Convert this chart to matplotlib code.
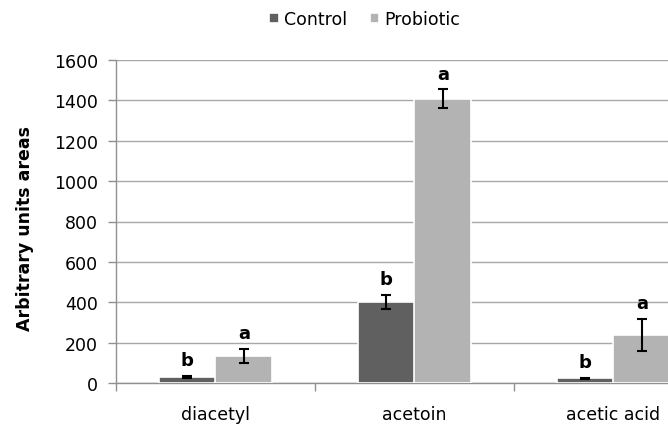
import matplotlib
matplotlib.use("Agg")
import matplotlib.pyplot as plt
import numpy as np

categories = ["diacetyl", "acetoin", "acetic acid"]
series_names = ["Control", "Probiotic"]
control = [30, 402, 23]
control_err = [6, 33, 4]
probiotic = [133, 1409, 238]
probiotic_err = [36, 45, 78]
control_letters = ["b", "b", "b"]
probiotic_letters = ["a", "a", "a"]
yticks = [0, 200, 400, 600, 800, 1000, 1200, 1400, 1600]

plt.rcParams['font.family'] = ['DejaVu Sans']

fig = plt.figure(figsize=(6.68, 4.27), dpi=100)
ax = fig.add_axes([116/668, 1-384/427, 597/668, 323/427])

x = np.arange(len(categories)) + 0.5
w = 0.285
off = 0.142
c_col = "#606060"
p_col = "#b3b3b3"

b1 = ax.bar(x - off, control, w, color=c_col, edgecolor="white", linewidth=1.2, zorder=3, label=series_names[0])
b2 = ax.bar(x + off, probiotic, w, color=p_col, edgecolor="white", linewidth=1.2, zorder=3, label=series_names[1])
ax.errorbar(x - off, control, yerr=control_err, fmt="none", ecolor="black", elinewidth=1.5, capsize=3.5, capthick=1.5, zorder=4)
ax.errorbar(x + off, probiotic, yerr=probiotic_err, fmt="none", ecolor="black", elinewidth=1.5, capsize=3.5, capthick=1.5, zorder=4)

for xi, v, e, t in zip(x - off, control, control_err, control_letters):
    ax.annotate(t, (xi, v + e), xytext=(0, 5), textcoords="offset points", ha="center", va="bottom",
                fontsize=13, fontweight="bold", zorder=5)
for xi, v, e, t in zip(x + off, probiotic, probiotic_err, probiotic_letters):
    ax.annotate(t, (xi, v + e), xytext=(0, 5), textcoords="offset points", ha="center", va="bottom",
                fontsize=13, fontweight="bold", zorder=5)

ax.set_xlim(0, 3)
ax.set_ylim(0, 1600)
ax.set_yticks(yticks)
ax.set_yticklabels([str(t) for t in yticks], fontsize=12.5)
ax.set_xticks([0, 1, 2, 3])
ax.set_xticklabels([])
ax.set_xticks(x, minor=True)
ax.set_xticklabels(categories, minor=True, fontsize=12.5)
ax.tick_params(axis="x", which="minor", length=0, pad=16)
ax.tick_params(axis="x", which="major", length=6, color="#909090", width=1)
ax.tick_params(axis="y", length=6, color="#909090", width=1, pad=7)
ax.grid(axis="y", color="#a8a8a8", linewidth=1, zorder=0)
for s in ["top", "right"]:
    ax.spines[s].set_visible(False)
for s in ["left", "bottom"]:
    ax.spines[s].set_color("#909090")
    ax.spines[s].set_linewidth(1)

ax.set_ylabel("Arbitrary units areas", fontsize=12.5, fontweight="bold")
ax.yaxis.set_label_coords(-0.137, 0.48)

fig.legend(handles=[b1, b2], labels=series_names, loc="center", bbox_to_anchor=(0.546, 0.953),
           ncol=2, frameon=False, fontsize=12.5, handlelength=0.55, handleheight=0.55,
           handletextpad=0.3, columnspacing=1.3)

fig.savefig("out.png", dpi=100)
